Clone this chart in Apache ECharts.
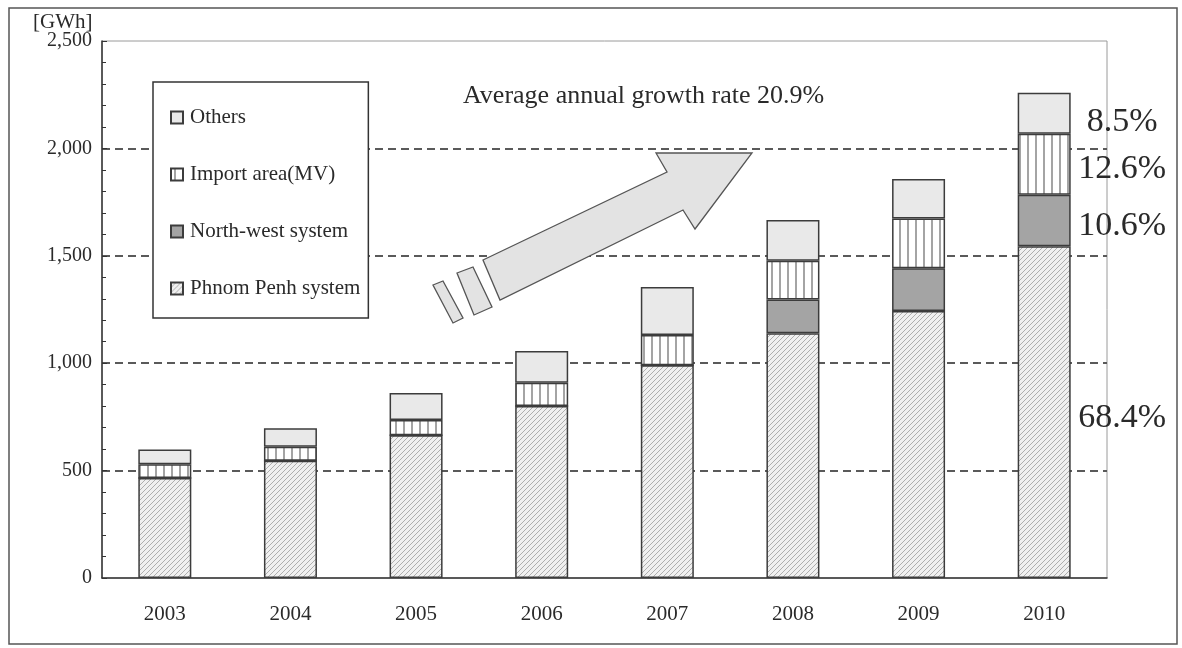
<!DOCTYPE html>
<html>
<head>
<meta charset="utf-8">
<script src="https://cdn.jsdelivr.net/npm/echarts@6/dist/echarts.min.js"></script>
<style>
  html, body { margin: 0; padding: 0; background: #fff; }
  #chart { width: 1182px; height: 648px; }
</style>
</head>
<body>
<div id="chart"></div>
<script>
// Electricity demand by supply area, GWh
const years = ['2003', '2004', '2005', '2006', '2007', '2008', '2009', '2010'];
const phnomPenh = [465, 546, 664, 801, 991, 1140, 1243, 1545];
const northWest = [0, 0, 0, 0, 0, 157, 199, 239];
const importArea = [65, 65, 71, 108, 140, 180, 232, 284];
const others = [68, 86, 126, 148, 224, 190, 183, 191];
const yTicks = [0, 500, 1000, 1500, 2000, 2500];

const SERIF = '"Liberation Serif", "Times New Roman", serif';
const TEXT = '#2a2a2a';

const totals = years.map((_, i) => phnomPenh[i] + northWest[i] + importArea[i] + others[i]);
const last = years.length - 1;
const growth = (Math.pow(totals[last] / totals[0], 1 / last) - 1) * 100;

// Fill patterns for the stacked segments
function pattern(size, bg, draw) {
  const c = document.createElement('canvas');
  c.width = size; c.height = size;
  const g = c.getContext('2d');
  g.fillStyle = bg;
  g.fillRect(0, 0, size, size);
  draw(g, size);
  return { image: c, repeat: 'repeat' };
}
const hatch = pattern(5, '#f0f0f0', (g, s) => {
  g.strokeStyle = '#a6a6a6';
  g.lineWidth = 0.9;
  g.beginPath();
  g.moveTo(-1, s + 1); g.lineTo(s + 1, -1);
  g.moveTo(-1, 1); g.lineTo(1, -1);
  g.moveTo(s - 1, s + 1); g.lineTo(s + 1, s - 1);
  g.stroke();
});
const vlines = pattern(8, '#ffffff', (g, s) => {
  g.fillStyle = '#4a4a4a';
  g.fillRect(3.5, 0, 1, s);
});

const border = { borderColor: '#3c3c3c', borderWidth: 1.5 };

function shareLabel(values, offsetY) {
  return {
    show: true,
    position: 'inside',
    offset: [78, offsetY],
    fontFamily: SERIF,
    fontSize: 34,
    color: TEXT,
    formatter: p => p.dataIndex === last
      ? (values[last] / totals[last] * 100).toFixed(1) + '%'
      : ''
  };
}

function seriesOf(name, data, color, offsetY) {
  return {
    name, type: 'bar', stack: 'total', data,
    barWidth: 53,
    itemStyle: Object.assign({ color }, border),
    label: shareLabel(data, offsetY),
    emphasis: { disabled: true },
    animation: false
  };
}

const chart = echarts.init(document.getElementById('chart'), null, { renderer: 'canvas' });

chart.setOption({
  backgroundColor: '#ffffff',
  animation: false,
  grid: {
    left: 102, right: 75, top: 41, bottom: 70,
    show: true, borderColor: '#9a9a9a', borderWidth: 1
  },
  legend: {
    orient: 'vertical',
    left: 153, top: 82,
    padding: [25, 8, 19, 17],
    itemGap: 36,
    itemWidth: 12, itemHeight: 12,
    backgroundColor: '#ffffff',
    borderColor: '#333333', borderWidth: 1.5,
    icon: 'rect',
    textStyle: { fontFamily: SERIF, fontSize: 21, color: TEXT, lineHeight: 20, padding: [0, 0, 0, 2] },
    data: ['Others', 'Import area(MV)', 'North-west system', 'Phnom Penh system'],
    selectedMode: false
  },
  xAxis: {
    type: 'category',
    data: years,
    axisLine: { lineStyle: { color: '#333', width: 1.5 } },
    axisTick: { inside: true, length: 5, lineStyle: { color: '#333' } },
    axisLabel: { fontFamily: SERIF, fontSize: 21, color: TEXT, margin: 26 }
  },
  yAxis: {
    type: 'value',
    min: yTicks[0], max: yTicks[yTicks.length - 1], interval: yTicks[1] - yTicks[0],
    axisLine: { show: true, lineStyle: { color: '#333', width: 1.5 } },
    axisTick: { show: true, inside: true, length: 5, lineStyle: { color: '#333' } },
    minorTick: { show: true, splitNumber: 5, length: 4, lineStyle: { color: '#333' } },
    axisLabel: {
      fontFamily: SERIF, fontSize: 20, color: TEXT, margin: 10,
      formatter: v => v.toLocaleString('en-US')
    },
    splitLine: {
      show: true, showMinLine: false, showMaxLine: false,
      lineStyle: { color: '#5a5a5a', width: 2, type: [8, 5] }
    }
  },
  series: [
    seriesOf('Phnom Penh system', phnomPenh, hatch, 6),
    seriesOf('North-west system', northWest, '#a4a4a4', 6),
    seriesOf('Import area(MV)', importArea, vlines, 5),
    seriesOf('Others', others, '#e9e9e9', 9)
  ],
  graphic: [
    {
      type: 'rect', silent: true, z: -1,
      shape: { x: 9, y: 8, width: 1168, height: 636 },
      style: { fill: 'none', stroke: '#555', lineWidth: 1.5 }
    },
    {
      type: 'text', left: 33, top: 12, silent: true,
      style: { text: '[GWh]', fontFamily: SERIF, fontSize: 21, fill: TEXT }
    },
    {
      type: 'text', left: 463, top: 83, silent: true,
      style: {
        text: 'Average annual growth rate ' + growth.toFixed(1) + '%',
        fontFamily: SERIF, fontSize: 26, fill: TEXT
      }
    },
    // growth arrow
    {
      type: 'polygon', silent: true, z: 10,
      shape: { points: [[483, 260], [667, 172], [656, 153], [752, 153], [695, 229], [683, 210], [500, 300]] },
      style: { fill: '#e3e3e3', stroke: '#555', lineWidth: 1.3 }
    },
    {
      type: 'polygon', silent: true, z: 10,
      shape: { points: [[457, 273], [473, 267], [492, 307], [474, 315]] },
      style: { fill: '#e3e3e3', stroke: '#555', lineWidth: 1.3 }
    },
    {
      type: 'polygon', silent: true, z: 10,
      shape: { points: [[433, 285], [443, 281], [463, 318], [453, 323]] },
      style: { fill: '#e3e3e3', stroke: '#555', lineWidth: 1.3 }
    }
  ]
});
</script>
</body>
</html>
